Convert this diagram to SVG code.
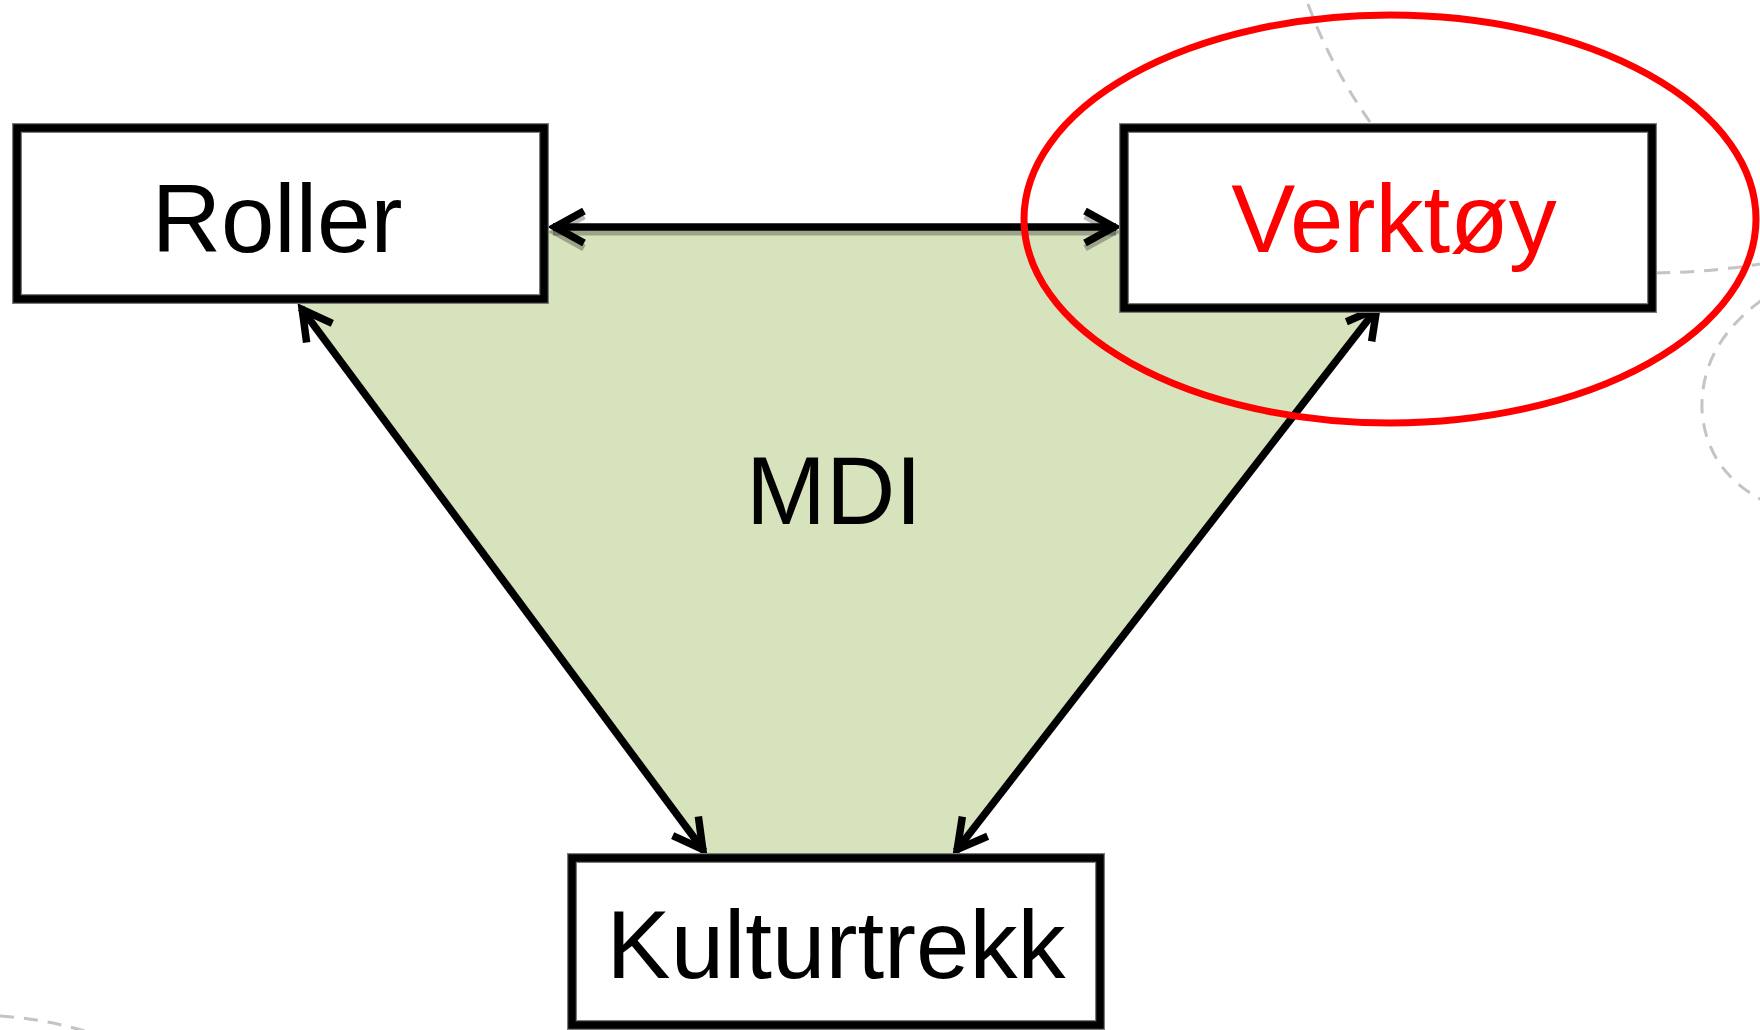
<svg xmlns="http://www.w3.org/2000/svg" width="1760" height="1030" viewBox="0 0 1760 1030">
  <defs>
    <style>
      .bg-dash { fill: none; stroke: #c4c4c4; stroke-width: 3; stroke-dasharray: 14 10; }
      .box-halo { fill: #ffffff; stroke: #7a7a7a; stroke-width: 10; }
      .box { fill: none; stroke: #000000; stroke-width: 7.5; }
      .label { font-family: "Liberation Sans", Arial, sans-serif; font-size: 96px; text-anchor: middle; fill: #000000; }
      .link { fill: none; stroke: #000000; stroke-width: 7.5; }
      .link-shadow { fill: none; stroke: #000000; stroke-opacity: 0.28; stroke-width: 7; }
    </style>
    <marker id="chevron" viewBox="-45 -30 50 60" refX="0" refY="0" markerWidth="50" markerHeight="60" markerUnits="userSpaceOnUse" orient="auto-start-reverse" overflow="visible">
      <path d="M -31 -16 L -2 0 L -31 16" fill="none" stroke="#000000" stroke-width="7.5" stroke-linejoin="miter"/>
    </marker>
    <marker id="chevron-shadow" viewBox="-45 -30 50 60" refX="0" refY="0" markerWidth="50" markerHeight="60" markerUnits="userSpaceOnUse" orient="auto-start-reverse" overflow="visible">
      <path d="M -31 -16 L -2 0 L -31 16" fill="none" stroke="#000000" stroke-opacity="0.28" stroke-width="7" stroke-linejoin="miter"/>
    </marker>
  </defs>

  <!-- faint dashed background curves -->
  <g id="background">
    <path class="bg-dash" d="M 1308 4 Q 1330 65 1370 122"/>
    <path class="bg-dash" d="M 1656 273 Q 1710 272 1760 264"/>
    <path class="bg-dash" d="M 1762 300 Q 1700 345 1702 410 Q 1706 470 1762 500"/>
    <path class="bg-dash" d="M 0 1016 Q 45 1019 88 1032"/>
  </g>

  <!-- shaded MDI area between the three nodes -->
  <polygon id="mdi-area" points="547,230 1120,230 1120,308 1380,308 955,856 706,856 299,303 547,303" fill="#d7e3bd"/>

  <g id="connectors">
    <g transform="translate(0,5)">
      <line class="link-shadow" x1="553" y1="227" x2="1116" y2="227" marker-start="url(#chevron-shadow)" marker-end="url(#chevron-shadow)"/>
    </g>
    <line class="link" x1="553" y1="227" x2="1116" y2="227" marker-start="url(#chevron)" marker-end="url(#chevron)"/>
    <line class="link" x1="301" y1="308" x2="704" y2="851" marker-start="url(#chevron)" marker-end="url(#chevron)"/>
    <line class="link" x1="1378" y1="307" x2="956" y2="851" marker-start="url(#chevron)" marker-end="url(#chevron)"/>
  </g>

  <g id="node-roller">
    <rect class="box-halo" x="17" y="128" width="527" height="171"/>
    <rect class="box" x="17" y="128" width="527" height="171"/>
    <text class="label" x="277" y="252">Roller</text>
  </g>

  <g id="node-verktoy">
    <rect class="box-halo" x="1124" y="128" width="528" height="180"/>
    <rect class="box" x="1124" y="128" width="528" height="180"/>
    <text class="label" x="1394" y="252" style="fill:#ff0000">Verktøy</text>
  </g>

  <g id="node-kulturtrekk">
    <rect class="box-halo" x="572" y="858" width="528" height="167"/>
    <rect class="box" x="572" y="858" width="528" height="167"/>
    <text class="label" x="836" y="978">Kulturtrekk</text>
  </g>

  <g id="label-mdi">
    <text class="label" x="834" y="524">MDI</text>
  </g>

  <!-- highlight ring around Verktøy -->
  <ellipse id="highlight" cx="1390" cy="219" rx="366" ry="204" fill="none" stroke="#ff0000" stroke-width="7"/>
</svg>
